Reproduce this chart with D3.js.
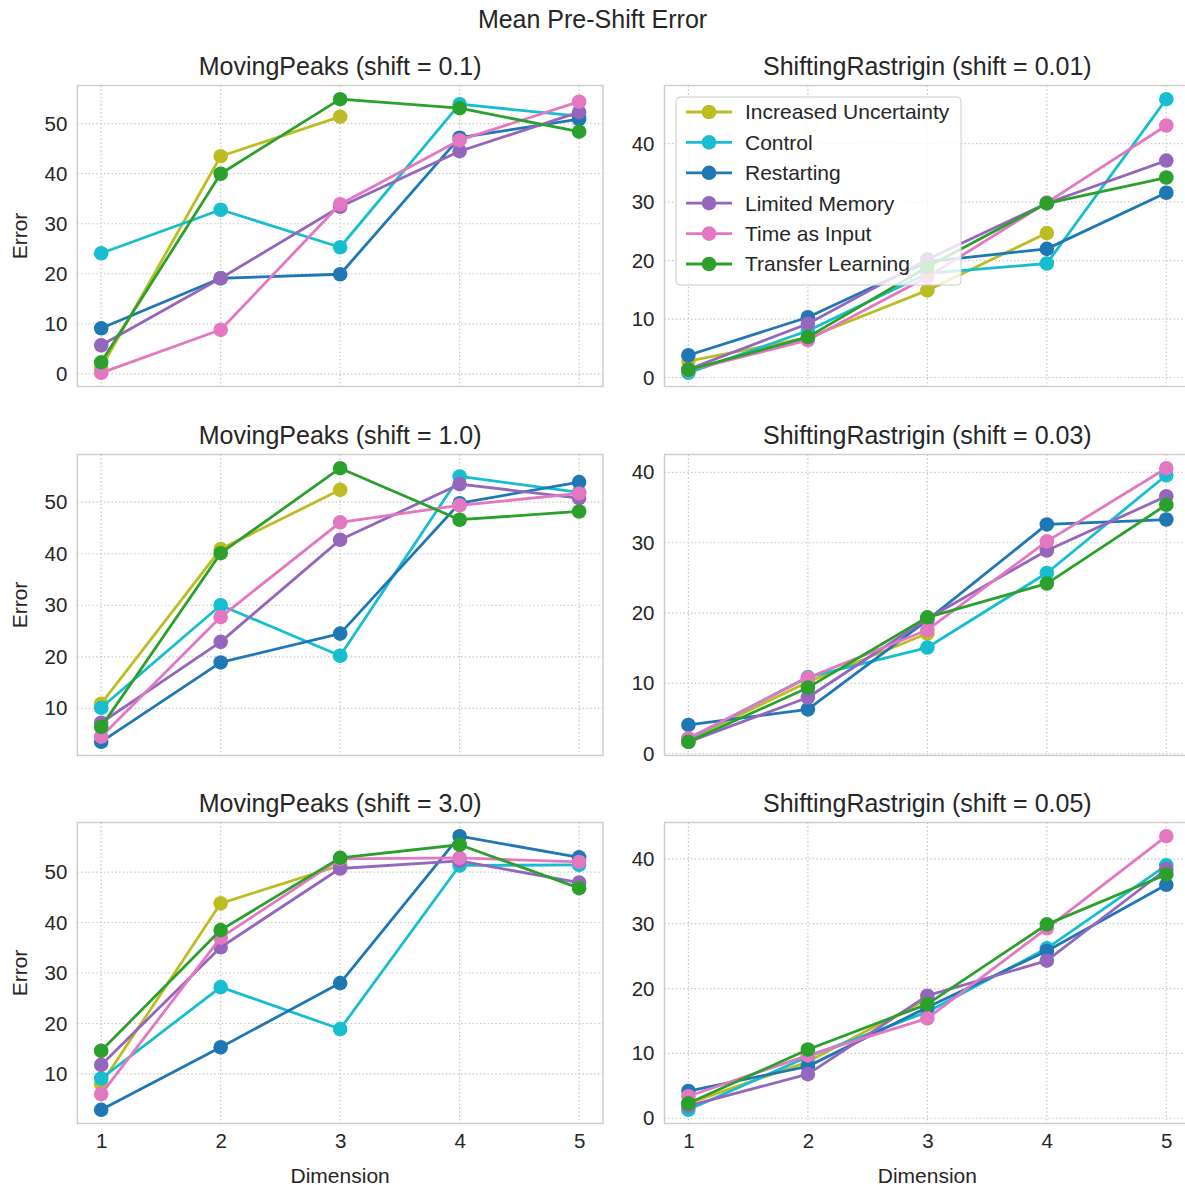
<!DOCTYPE html>
<html>
<head>
<meta charset="utf-8">
<script src="https://cdn.jsdelivr.net/npm/d3@7"></script>
<style>
  body { margin: 0; background: #fff; }
  text { font-family: "Liberation Sans", Arial, sans-serif; fill: #262626; }
</style>
</head>
<body>
<div id="chart"></div>
<script>
// data

const dims = [1, 2, 3, 4, 5];

const methods = ["Increased Uncertainty", "Control", "Restarting",
                 "Limited Memory", "Time as Input", "Transfer Learning"];

const colors = ["#bcbd22", "#17becf", "#1f77b4", "#9467bd", "#e377c2", "#2ca02c"];

const panelTitles = ["MovingPeaks (shift = 0.1)", "ShiftingRastrigin (shift = 0.01)",
                     "MovingPeaks (shift = 1.0)", "ShiftingRastrigin (shift = 0.03)",
                     "MovingPeaks (shift = 3.0)", "ShiftingRastrigin (shift = 0.05)"];

// one row per method, same order as `methods`
const mp01 = [
  [1.2, 43.5, 51.4, null, null],
  [24.1, 32.8, 25.3, 53.9, 51.5],
  [9.1, 19.1, 19.9, 47.2, 50.9],
  [5.7, 19.1, 33.4, 44.5, 52.3],
  [0.2, 8.8, 33.9, 46.7, 54.4],
  [2.3, 40.0, 54.9, 53.1, 48.4]
];

const sr001 = [
  [2.8, 6.8, 14.9, 24.7, null],
  [0.8, 8.0, 17.8, 19.5, 47.6],
  [3.8, 10.3, 19.8, 22.0, 31.6],
  [1.4, 9.2, 20.2, 29.8, 37.1],
  [1.2, 6.4, 17.2, 29.9, 43.1],
  [1.3, 6.9, 18.9, 29.8, 34.2]
];

const mp10 = [
  [10.9, 40.9, 52.4, null, null],
  [10.1, 30.0, 20.2, 55.0, 51.9],
  [3.5, 18.9, 24.5, 49.8, 53.9],
  [7.2, 22.9, 42.7, 53.5, 50.8],
  [4.5, 27.7, 46.1, 49.4, 51.7],
  [6.4, 40.1, 56.6, 46.6, 48.2]
];

const sr003 = [
  [2.0, 10.2, 17.1, null, null],
  [2.1, 10.9, 15.1, 25.7, 39.6],
  [4.1, 6.3, 19.0, 32.6, 33.3],
  [1.7, 8.0, 19.2, 28.9, 36.6],
  [2.2, 10.8, 17.6, 30.2, 40.6],
  [1.7, 9.4, 19.4, 24.2, 35.4]
];

const mp30 = [
  [8.0, 43.8, 51.3, null, null],
  [9.1, 27.2, 18.9, 51.3, 51.4],
  [2.9, 15.3, 28.0, 57.1, 52.9],
  [11.8, 35.1, 50.7, 52.2, 47.9],
  [6.0, 37.0, 52.6, 52.8, 52.0],
  [14.6, 38.5, 52.8, 55.4, 46.8]
];

const sr005 = [
  [2.3, 8.7, 18.4, null, null],
  [1.3, 9.5, 16.4, 26.2, 39.0],
  [4.2, 8.0, 17.1, 25.8, 36.0],
  [1.9, 6.8, 18.9, 24.3, 38.4],
  [3.4, 9.7, 15.4, 29.3, 43.5],
  [2.3, 10.6, 17.6, 29.9, 37.6]
];

const panelData = [mp01, sr001, mp10, sr003, mp30, sr005];

// layout

const width = 1185, height = 1185;
const colX = [77.3, 664.5];
const rowY = [85.5, 454.5, 822.5];
const pw = 525.7, ph = 301;

const svg = d3.select("#chart").append("svg")
  .attr("width", width)
  .attr("height", height);

svg.append("text")
  .attr("x", width / 2)
  .attr("y", 28)
  .attr("text-anchor", "middle")
  .style("font-size", "25px")
  .text("Mean Pre-Shift Error");

panelData.forEach((series, i) => {
  const col = i % 2, row = Math.floor(i / 2);
  const x0 = colX[col], y0 = rowY[row];

  const x = d3.scaleLinear().domain([0.8, 5.2]).range([x0, x0 + pw]);

  // matplotlib style 5% margins
  const vals = series.flat().filter(v => v != null);
  const [lo, hi] = d3.extent(vals);
  const pad = (hi - lo) * 0.05;
  const y = d3.scaleLinear().domain([lo - pad, hi + pad]).range([y0 + ph, y0]);

  const g = svg.append("g");

  // grid
  const yTicks = y.ticks(6).filter(t => t >= y.domain()[0] && t <= y.domain()[1]);
  g.selectAll(".gy").data(yTicks).enter().append("line")
    .attr("x1", x0).attr("x2", x0 + pw)
    .attr("y1", d => y(d)).attr("y2", d => y(d))
    .attr("stroke", "#c4c4c4").attr("stroke-width", 1.2)
    .attr("stroke-dasharray", "1.4,2.4");
  g.selectAll(".gx").data(dims).enter().append("line")
    .attr("x1", d => x(d)).attr("x2", d => x(d))
    .attr("y1", y0).attr("y2", y0 + ph)
    .attr("stroke", "#c4c4c4").attr("stroke-width", 1.2)
    .attr("stroke-dasharray", "1.4,2.4");

  // frame
  g.append("rect")
    .attr("x", x0).attr("y", y0).attr("width", pw).attr("height", ph)
    .attr("fill", "none").attr("stroke", "#cccccc").attr("stroke-width", 1.4);

  // y axis labels
  const yAxis = d3.axisLeft(y).tickValues(yTicks).tickSize(0).tickPadding(10);
  const ga = g.append("g").attr("transform", `translate(${x0},0)`).call(yAxis);
  ga.select(".domain").remove();
  ga.selectAll("text")
    .style("font-size", "20.5px")
    .style("font-family", "'Liberation Sans', Arial, sans-serif")
    .attr("fill", "#262626");

  if (row === 2) {
    const xAxis = d3.axisBottom(x).tickValues(dims).tickSize(0).tickPadding(10)
      .tickFormat(d3.format("d"));
    const gx = g.append("g").attr("transform", `translate(0,${y0 + ph})`).call(xAxis);
    gx.select(".domain").remove();
    gx.selectAll("text")
      .style("font-size", "20.5px")
      .style("font-family", "'Liberation Sans', Arial, sans-serif")
      .attr("fill", "#262626");

    g.append("text")
      .attr("x", x0 + pw / 2)
      .attr("y", y0 + ph + 59)
      .attr("text-anchor", "middle")
      .style("font-size", "21px")
      .text("Dimension");
  }

  if (col === 0) {
    g.append("text")
      .attr("transform", `translate(27,${y0 + ph / 2}) rotate(-90)`)
      .attr("text-anchor", "middle")
      .style("font-size", "21px")
      .text("Error");
  }

  g.append("text")
    .attr("x", x0 + pw / 2)
    .attr("y", y0 - 11)
    .attr("text-anchor", "middle")
    .style("font-size", "25px")
    .text(panelTitles[i]);

  const line = d3.line()
    .defined(d => d != null)
    .x((d, j) => x(dims[j]))
    .y(d => y(d));

  series.forEach((s, k) => {
    g.append("path")
      .datum(s)
      .attr("d", line)
      .attr("fill", "none")
      .attr("stroke", colors[k])
      .attr("stroke-width", 2.8)
      .attr("stroke-linejoin", "round")
      .attr("stroke-linecap", "round");
    g.selectAll(null)
      .data(s.map((v, j) => ({ v, j })).filter(d => d.v != null))
      .enter().append("circle")
      .attr("cx", d => x(dims[d.j]))
      .attr("cy", d => y(d.v))
      .attr("r", 7.3)
      .attr("fill", colors[k]);
  });

  // legend only in the second panel
  if (i === 1) {
    const lg = g.append("g").attr("transform", "translate(676,97)");
    lg.append("rect")
      .attr("width", 285).attr("height", 188).attr("rx", 4)
      .attr("fill", "#fff").attr("fill-opacity", 0.8)
      .attr("stroke", "#cccccc").attr("stroke-width", 1);
    methods.forEach((m, k) => {
      const yy = 15 + k * 30.4;
      lg.append("line")
        .attr("x1", 10).attr("x2", 56).attr("y1", yy).attr("y2", yy)
        .attr("stroke", colors[k]).attr("stroke-width", 2.8);
      lg.append("circle")
        .attr("cx", 33).attr("cy", yy).attr("r", 7.3).attr("fill", colors[k]);
      lg.append("text")
        .attr("x", 69).attr("y", yy)
        .attr("dy", "0.35em")
        .style("font-size", "21px")
        .text(m);
    });
  }
});
</script>
</body>
</html>
